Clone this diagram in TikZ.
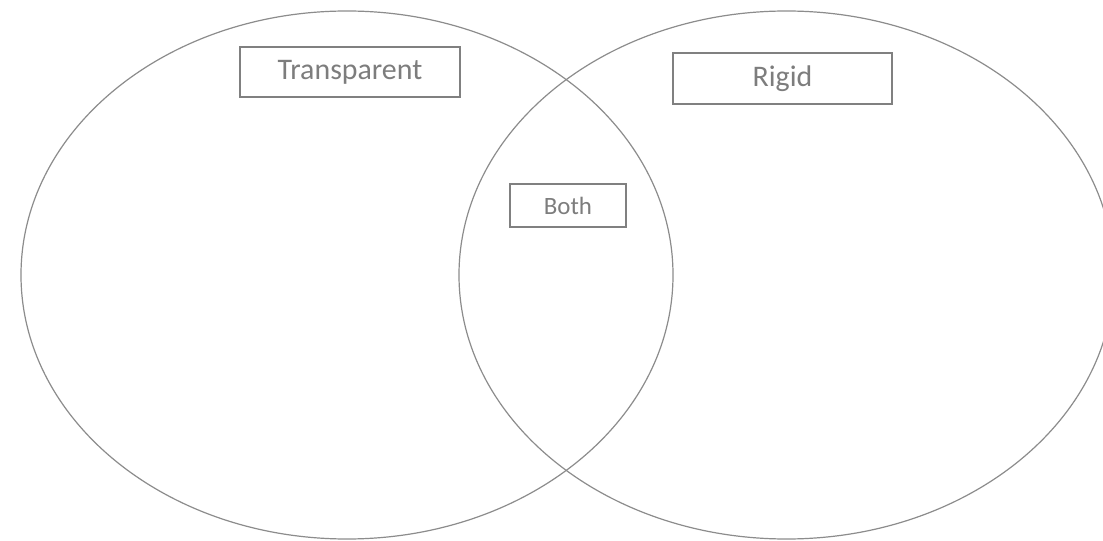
\documentclass[tikz,border=0pt]{standalone}
\usepackage{fontspec}
\setmainfont{Carlito}
\definecolor{linegray}{RGB}{140,140,140}
\definecolor{boxgray}{RGB}{128,128,128}
\definecolor{textgray}{RGB}{125,125,125}
\begin{document}
\begin{tikzpicture}[x=1bp,y=-1bp,
  circ/.style={draw=linegray,line width=1.2bp},
  label box/.style={draw=boxgray,line width=1.3bp,text=textgray,inner sep=0pt,font=\fontsize{30}{36}\selectfont},
]
\useasboundingbox (0,0) rectangle (1103,541);
\clip (0,0) rectangle (1103,541);
\fill[white] (0,0) rectangle (1103,541);
\draw[circ] (347,275) ellipse [x radius=326, y radius=264];
\draw[circ] (786.5,275) ellipse [x radius=327.5, y radius=264];
\node[label box,minimum width=220bp,minimum height=50bp] (transparent) at (350,72) {Transparent};
\node[label box,minimum width=219bp,minimum height=51bp] (rigid) at (782.5,78.5) {Rigid};
\node[label box,minimum width=116bp,minimum height=43bp,font=\fontsize{25}{30}\selectfont] (both) at (568,205.5) {Both};
\end{tikzpicture}
\end{document}
